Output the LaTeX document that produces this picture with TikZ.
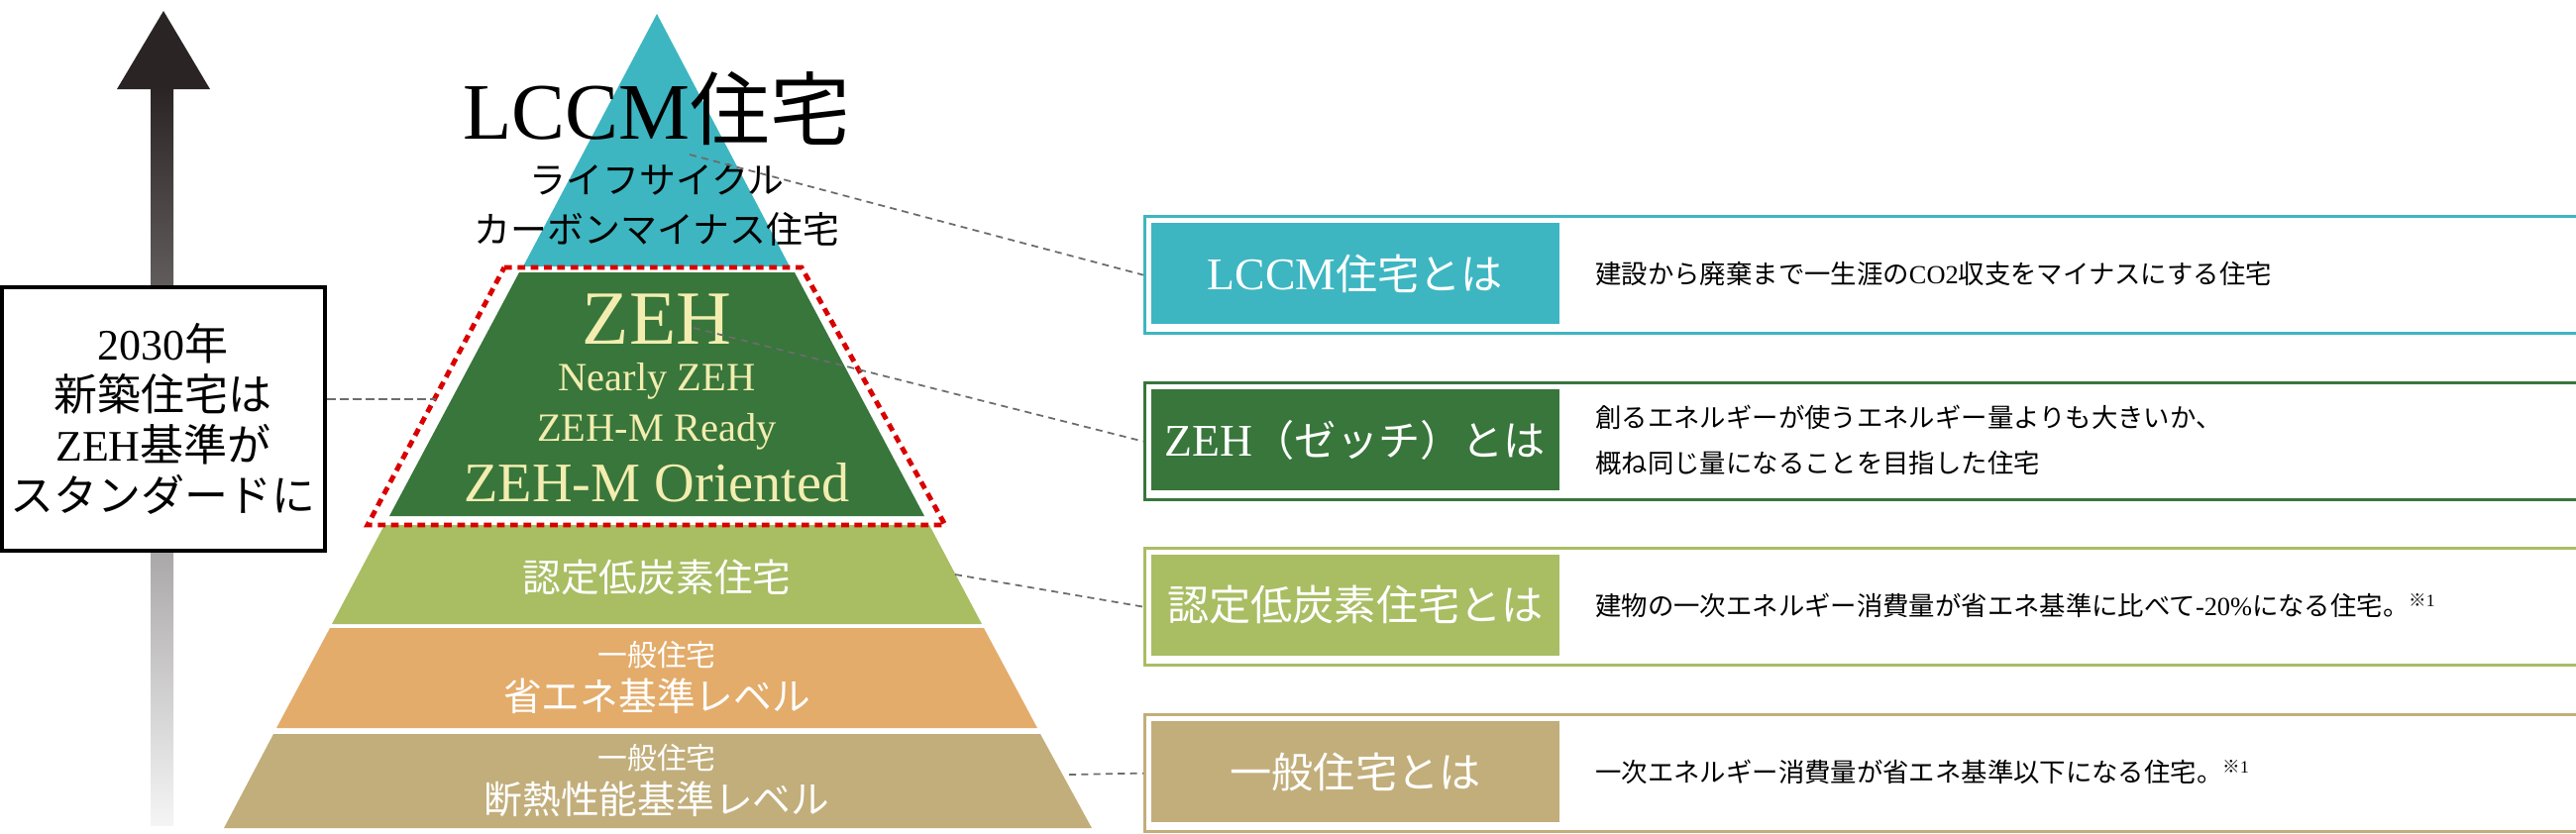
\documentclass[tikz,border=0pt]{standalone}
\usepackage{fontspec}
\setmainfont{Liberation Serif}
\newfontfamily\jp{Noto Sans CJK JP}
\definecolor{cteal}{HTML}{3DB6C1}
\definecolor{cgreen}{HTML}{38763B}
\definecolor{clg}{HTML}{A9BD63}
\definecolor{corg}{HTML}{E3AC6B}
\definecolor{ctan}{HTML}{C2AE7B}
\definecolor{cyel}{HTML}{F3EDB0}
\definecolor{cdark}{HTML}{2B2424}
\begin{document}
\begin{tikzpicture}[x=0.01cm,y=-0.01cm,
 conn/.style={draw=gray!85!black,line width=0.5pt,dash pattern=on 2pt off 1.5pt},
 frame/.style={line width=0.9pt,fill=white,minimum width=14.45cm,minimum height=1.18cm,anchor=north west,inner sep=0},
 lab/.style={text=white,font=\jp\fontsize{12}{14}\selectfont,anchor=center},
 desc/.style={anchor=west,align=left,font=\jp\fontsize{7.5}{13}\selectfont,text=black}]
\useasboundingbox (0,0) rectangle (2600,841);
% arrow
\shade[top color=cdark,bottom color=gray!8] (152,88) rectangle (175,833);
\fill[cdark] (118,90) -- (165,11) -- (212,90) -- cycle;
% pyramid bands
\fill[cteal] (663,14) -- (797,269) -- (528,269) -- cycle;
\fill[cgreen] (524,275) -- (802,275) -- (933,521) -- (393,521) -- cycle;
\fill[clg] (388,530) -- (938,530) -- (991,630) -- (335,630) -- cycle;
\fill[corg] (333,634) -- (993,634) -- (1047,735) -- (279,735) -- cycle;
\fill[ctan] (276,741) -- (1050,741) -- (1102,836) -- (226,836) -- cycle;
\draw[red!85!black,line width=1.4pt,dash pattern=on 2.2pt off 1.6pt] (509,270) -- (809,270) -- (954,530) -- (371,530) -- cycle;
% pyramid texts
\node (lccm) at (663,110) {\fontsize{23}{26}\selectfont LCCM{\jp 住宅}};
\node[align=center,font=\jp\fontsize{10.5}{14}\selectfont] (lccms) at (663,207) {ライフサイクル\\カーボンマイナス住宅};
\node[text=cyel,font=\fontsize{22}{24}\selectfont] (zeh) at (663,322) {ZEH};
\node[text=cyel,align=center,font=\fontsize{11.5}{14.5}\selectfont] (zehs) at (663,410) {Nearly ZEH\\ZEH-M Ready};
\node[text=cyel,font=\fontsize{16}{18}\selectfont] (zehm) at (663,487) {ZEH-M Oriented};
\node[text=white,font=\jp\fontsize{11}{13}\selectfont] (nintei) at (663,583) {認定低炭素住宅};
\node[text=white,align=center,font=\jp\fontsize{11}{13}\selectfont] (ippan1) at (663,684) {{\fontsize{8.5}{10}\selectfont 一般住宅}\\省エネ基準レベル};
\node[text=white,align=center,font=\jp\fontsize{11}{13}\selectfont] (ippan2) at (663,788) {{\fontsize{8.5}{10}\selectfont 一般住宅}\\断熱性能基準レベル};
% left box
\node[draw=black,line width=1pt,fill=white,minimum width=3.26cm,minimum height=2.66cm,inner sep=0,anchor=north west,align=center,font=\jp\fontsize{12.5}{14.5}\selectfont] (goal) at (0,288) {{\rmfamily 2030}年\\新築住宅は\\{\rmfamily ZEH}基準が\\スタンダードに};
\coordinate (gz) at (440,403);
\draw[conn,dash pattern=on 2.5pt off 1.2pt] (goal.east |- gz) -- (gz);
% right boxes
\node[frame,draw=cteal] (b1) at (1154,217) {};
\node[frame,draw=cgreen] (b2) at (1154,385) {};
\node[frame,draw=clg] (b3) at (1154,552) {};
\node[frame,draw=ctan] (b4) at (1154,720) {};
\fill[cteal] (1162,225) rectangle (1574,327);
\fill[cgreen] (1162,393) rectangle (1574,495);
\fill[clg] (1162,560) rectangle (1574,662);
\fill[ctan] (1162,728) rectangle (1574,830);
\node[lab] (l1) at (1368,276) {{\rmfamily\fontsize{13}{15}\selectfont LCCM}住宅とは};
\node[lab] (l2) at (1368,444) {{\rmfamily\fontsize{13}{15}\selectfont ZEH}（ゼッチ）とは};
\node[lab] (l3) at (1368,611) {認定低炭素住宅とは};
\node[lab] (l4) at (1368,779) {一般住宅とは};
\node[desc] (d1) at (1598,276) {建設から廃棄まで一生涯の{\rmfamily CO2}収支をマイナスにする住宅};
\node[desc] (d2) at (1598,444) {創るエネルギーが使うエネルギー量よりも大きいか、\\概ね同じ量になることを目指した住宅};
\node[desc] (d3) at (1598,611) {建物の一次エネルギー消費量が省エネ基準に比べて{\rmfamily -20\%}になる住宅。\raisebox{0.6ex}{\fontsize{5}{6}\selectfont ※{\rmfamily 1}}};
\node[desc] (d4) at (1598,779) {一次エネルギー消費量が省エネ基準以下になる住宅。\raisebox{0.6ex}{\fontsize{5}{6}\selectfont ※{\rmfamily 1}}};
% connectors
\coordinate (c1) at (696,156);
\coordinate (c2) at (700,331);
\coordinate (c3) at (964,580);
\coordinate (c4) at (1079,782);
\draw[conn] (c1) -- (b1.west);
\draw[conn] (c2) -- (b2.west);
\draw[conn] (c3) -- (b3.west);
\draw[conn] (c4) -- (b4.west);
\end{tikzpicture}
\end{document}
